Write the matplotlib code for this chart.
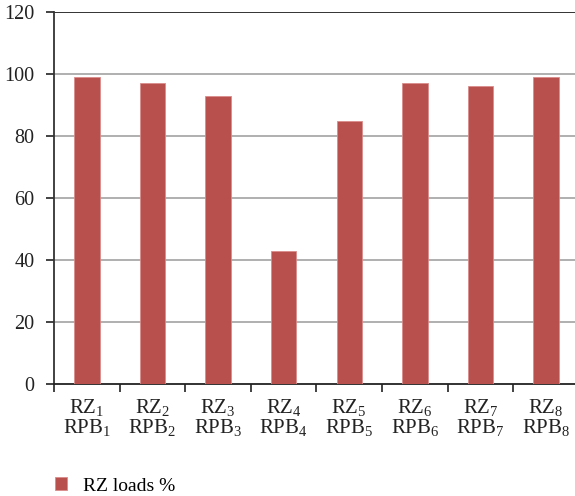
import matplotlib
matplotlib.use("Agg")
import matplotlib.pyplot as plt
import numpy as np

plt.rcParams["font.family"] = ["Liberation Serif", "DejaVu Serif"]
plt.rcParams["mathtext.fontset"] = "custom"
plt.rcParams["mathtext.rm"] = "Liberation Serif"
plt.rcParams["mathtext.it"] = "Liberation Serif:italic"

zones = ["1", "2", "3", "4", "5", "6", "7", "8"]
loads = [99, 97, 93, 43, 85, 97, 96, 99]
yticks = [0, 20, 40, 60, 80, 100, 120]

labels = ["RZ$_{%s}$\nRPB$_{%s}$" % (z, z) for z in zones]
x = np.arange(len(zones))

fig = plt.figure(figsize=(5.75, 4.96), dpi=100)
ax = fig.add_axes([54 / 575, 1 - 384 / 496, 525 / 575, 372 / 496])

ax.bar(x, loads, width=0.39, color="#B8504D", edgecolor="#D98C8A",
       linewidth=0.6, zorder=3, label="RZ loads %")

ax.set_xlim(-0.5, 7.5)
ax.set_ylim(0, 120)
ax.set_yticks(yticks)
ax.set_xticks(np.arange(-0.5, 8, 1))
ax.set_xticklabels([])
ax.set_xticks(x, minor=True)
ax.set_xticklabels(labels, minor=True, fontsize=15, color="#222222",
                   linespacing=1.0)
ax.tick_params(axis="x", which="minor", length=0, pad=9)
ax.tick_params(axis="x", which="major", length=6, width=1.2, color="#222222",
               direction="out")
ax.tick_params(axis="y", length=6, width=1.2, color="#222222", direction="out",
               labelsize=14.5, labelcolor="#222222", pad=8)

for yv in yticks[1:-1]:
    ax.axhline(yv, color="#9a9a9a", linewidth=1.1, zorder=1)
ax.axhline(120, color="#333333", linewidth=1.4, zorder=1)

for s in ["top", "right"]:
    ax.spines[s].set_visible(False)
ax.spines["left"].set_linewidth(1.3)
ax.spines["left"].set_color("#333333")
ax.spines["bottom"].set_linewidth(1.3)
ax.spines["bottom"].set_color("#222222")

ax.legend(loc="center left", bbox_to_anchor=(47 / 575, 1 - 486 / 496),
          bbox_transform=fig.transFigure, frameon=False, fontsize=14,
          handlelength=0.65, handleheight=0.65, handletextpad=0.8,
          borderaxespad=0)

fig.savefig("out.png", dpi=100)
